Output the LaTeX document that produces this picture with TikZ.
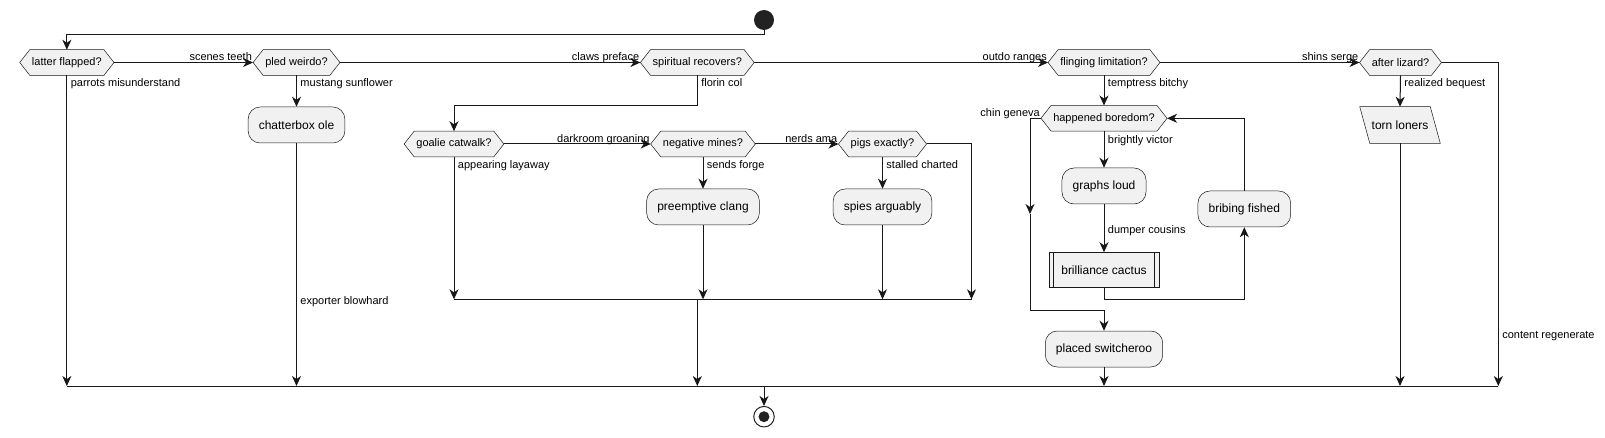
\documentclass[tikz,border=0pt]{standalone}
\usepackage{fontspec}
\setmainfont{Liberation Sans}
\usetikzlibrary{arrows.meta,backgrounds}
\definecolor{ln}{HTML}{181818}
\definecolor{fl}{HTML}{F1F1F1}
\definecolor{dot}{HTML}{222222}
\newcommand{\hexn}[3]{%
  \node[hexn] (#1) at (#2) {#3};
  \begin{scope}[on background layer]
    \path[hexs] (#1.west) -- ([xshift=7.5pt]#1.north west) -- ([xshift=-7.5pt]#1.north east) -- (#1.east) -- ([xshift=-7.5pt]#1.south east) -- ([xshift=7.5pt]#1.south west) -- cycle;
  \end{scope}}
\begin{document}
\begin{tikzpicture}[x=0.75pt,y=-0.75pt,
  line/.style={draw=ln, line width=0.75pt},
  arr/.style={line, -{Stealth[length=7.5pt,width=6.75pt,inset=2.3pt]}},
  hexn/.style={rectangle, inner xsep=9pt, inner ysep=0pt, minimum height=18.75pt, font=\fontsize{8.25}{10}\selectfont},
  hexs/.style={fill=fl, draw=ln, line width=0.375pt},
  act/.style={rectangle, rounded corners=9pt, fill=fl, draw=ln, line width=0.375pt, inner xsep=8pt, inner ysep=0pt, minimum height=27pt, font=\fontsize{9}{11}\selectfont},
  subp/.style={rectangle, fill=fl, draw=ln, line width=0.375pt, inner xsep=9.4pt, inner ysep=0pt, minimum height=26.25pt, font=\fontsize{9}{11}\selectfont},
  iobox/.style={rectangle, inner sep=0pt, minimum width=52.5pt, minimum height=27pt, font=\fontsize{9}{11}\selectfont},
  lbl/.style={font=\fontsize{8.25}{10}\selectfont, inner sep=0pt, text=black},
  lba/.style={lbl, pos=1, anchor=base east, xshift=-0.5pt, yshift=1.35pt},
  lbb/.style={lbl, pos=0, anchor=base west, xshift=2.6pt, yshift=-8.7pt},
  lbm/.style={lbl, anchor=base west, xshift=2.6pt},
  startc/.style={circle, fill=dot, minimum size=15pt, inner sep=0pt},
  endc/.style={circle, draw=dot, line width=0.75pt, fill=white, minimum size=15.4pt, inner sep=0pt}
]
\begin{scope}[on background layer]
  \fill[white] (0,0) rectangle (1605,438);
\end{scope}
\useasboundingbox (0,0) rectangle (1605,438);

% rails
\coordinate (top) at (0,35);
\coordinate (r106) at (0,106);
\coordinate (m1) at (0,299.3);
\coordinate (low) at (0,310.7);
\coordinate (m2) at (0,386);
\coordinate (pr) at (971.5,299.3);
\coordinate (cg) at (1030,214);
\coordinate (aturn) at (1498.3,62.5);

% nodes
\node[startc] (start) at (764,20) {};
\hexn{latter}{66.85,62.5}{latter flapped?}
\hexn{pled}{296.5,62.5}{pled weirdo?}
\hexn{spiritual}{697.3,62.5}{spiritual recovers?}
\hexn{fling}{1104,62.5}{flinging limitation?}
\hexn{after}{1400.5,62.5}{after lizard?}
\node[act] (chatter) at (296.5,125) {chatterbox ole};
\hexn{goalie}{454,144}{goalie catwalk?}
\hexn{negm}{703,144}{negative mines?}
\hexn{pigs}{882.5,144}{pigs exactly?}
\node[act] (preempt) at (703,207) {preemptive clang};
\node[act] (spies) at (882.5,207) {spies arguably};
\hexn{happened}{1104,118.3}{happened boredom?}
\node[act] (graphs) at (1104,186) {graphs loud};
\node[subp] (cactus) at (1104,270) {brilliance cactus};
\draw[draw=ln, line width=0.375pt] ([xshift=3.75pt]cactus.north west) -- ([xshift=3.75pt]cactus.south west)
  ([xshift=-3.75pt]cactus.north east) -- ([xshift=-3.75pt]cactus.south east);
\node[act] (bribing) at (1244.3,209) {bribing fished};
\node[act] (placed) at (1104,349) {placed switcheroo};
\node[iobox] (torn) at (1400,125) {torn loners};
\begin{scope}[on background layer]
  \path[hexs] ([xshift=-3.75pt]torn.north west) -- ([xshift=-3.75pt]torn.north east) -- ([xshift=3.75pt]torn.south east) -- ([xshift=3.75pt]torn.south west) -- cycle;
\end{scope}
\node[endc] (end) at (764,416.7) {};
\fill[dot] (end.center) circle[radius=4.1pt];

% connectors
\draw[arr] (start.south) -- (start.south |- top) -| (latter.north);
\draw[arr] (latter.east) -- node[lba]{scenes teeth} (pled.west);
\draw[arr] (latter.south) -- node[lbb]{parrots misunderstand} (latter.south |- m2);
\draw[arr] (pled.east) -- node[lba]{claws preface} (spiritual.west);
\draw[arr] (pled.south) -- node[lbb]{mustang sunflower} (chatter.north);
\draw[arr] (chatter.south) -- node[lbm, pos=0.665]{exporter blowhard} (chatter.south |- m2);
\draw[arr] (spiritual.east) -- node[lba]{outdo ranges} (fling.west);
\draw[arr] (spiritual.south) -- node[lbb]{florin col} (spiritual.south |- r106) -| (goalie.north);
\draw[arr] (goalie.east) -- node[lba]{darkroom groaning} (negm.west);
\draw[arr] (goalie.south) -- node[lbb]{appearing layaway} (goalie.south |- m1);
\draw[arr] (negm.east) -- node[lba]{nerds ama} (pigs.west);
\draw[arr] (negm.south) -- node[lbb]{sends forge} (preempt.north);
\draw[arr] (preempt.south) -- (preempt.south |- m1);
\draw[arr] (pigs.south) -- node[lbb]{stalled charted} (spies.north);
\draw[arr] (spies.south) -- (spies.south |- m1);
\draw[arr] (pigs.east) -| (pr);
\draw[line] (goalie.south |- m1) -- (pr);
\draw[arr] (spiritual.south |- m1) -- (spiritual.south |- m2);
\draw[arr] (fling.east) -- node[lba]{shins serge} (after.west);
\draw[arr] (fling.south) -- node[lbb]{temptress bitchy} (happened.north);
\draw[arr] (happened.south) -- node[lbb, yshift=-0.6pt]{brightly victor} (graphs.north);
\draw[arr] (graphs.south) -- node[lbm, pos=0.6]{dumper cousins} (cactus.north);
\draw[arr] (cactus.south) -- (cactus.south |- m1) -| (bribing.south);
\draw[arr] (bribing.north) |- (happened.east);
\draw[arr] (happened.west) -- node[lba, pos=0]{chin geneva} (happened.west -| cg) -- (cg);
\draw[arr] (cg) -- (cg |- low) -| (placed.north);
\draw[arr] (placed.south) -- (placed.south |- m2);
\draw[arr] (after.east) -- (aturn) -- node[lbm, pos=0.853]{content regenerate} (aturn |- m2);
\draw[arr] (after.south) -- node[lbb]{realized bequest} (torn.north);
\draw[arr] (torn.south) -- (torn.south |- m2);
\draw[line] (latter.south |- m2) -- (aturn |- m2);
\draw[arr] (start.south |- m2) -- (end.north);
\end{tikzpicture}
\end{document}
